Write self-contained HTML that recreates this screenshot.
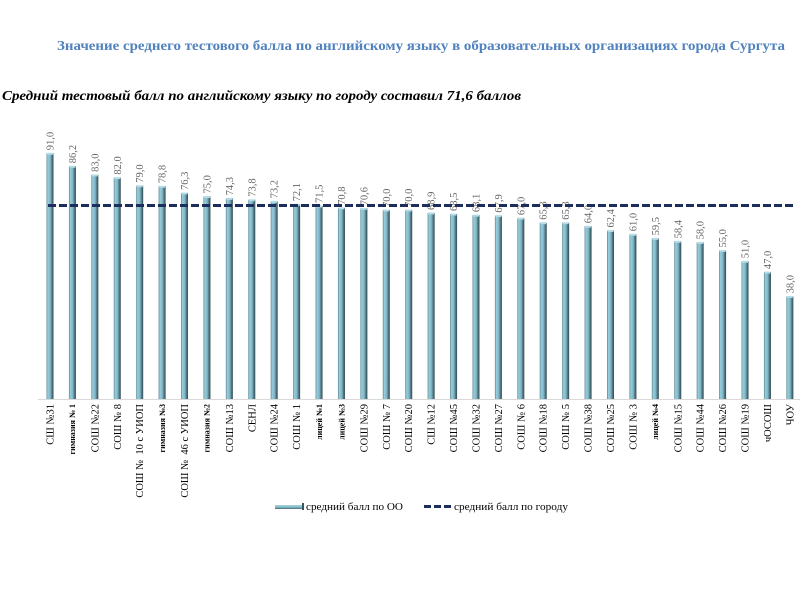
<!DOCTYPE html>
<html>
<head>
<meta charset="utf-8">
<style>
html,body{margin:0;padding:0;background:#fff;}
svg{display:block;}
</style>
</head>
<body>
<svg width="800" height="600" viewBox="0 0 800 600" xmlns="http://www.w3.org/2000/svg">
<defs>
<linearGradient id="bg" x1="0" y1="0" x2="1" y2="0">
<stop offset="0" stop-color="#4f808c"/>
<stop offset="0.18" stop-color="#9acddb"/>
<stop offset="0.55" stop-color="#7fb7c6"/>
<stop offset="0.75" stop-color="#547f8a"/>
<stop offset="1" stop-color="#34494f"/>
</linearGradient>
<linearGradient id="lg" x1="0" y1="0" x2="0" y2="1">
<stop offset="0" stop-color="#a3d3df"/>
<stop offset="0.5" stop-color="#88bfcd"/>
<stop offset="1" stop-color="#4a6f78"/>
</linearGradient>
</defs>
<rect width="800" height="600" fill="#fff"/>

<text x="57" y="50" font-family="Liberation Serif, serif" font-weight="bold" font-size="14" fill="#5182be" textLength="728" lengthAdjust="spacingAndGlyphs">Значение среднего тестового балла по английскому языку в образовательных организациях города Сургута</text>

<text x="2" y="100" font-family="Liberation Serif, serif" font-weight="bold" font-style="italic" font-size="13.5" fill="#000" textLength="519" lengthAdjust="spacingAndGlyphs">Средний тестовый балл по английскому языку по городу составил 71,6 баллов</text>

<line x1="38" y1="399.5" x2="800" y2="399.5" stroke="#d9d9d9" stroke-width="1"/>

<g id="bars"></g>

<line x1="48" y1="205.5" x2="793" y2="205.5" stroke="#1b2e5e" stroke-width="3" stroke-dasharray="8 3"/>

<!-- legend -->
<rect x="275" y="505" width="28" height="4" fill="url(#lg)"/>
<rect x="302" y="503" width="2" height="7" fill="#3a555c"/>
<text x="306" y="510" font-family="Liberation Serif, serif" font-size="11" fill="#000" textLength="97" lengthAdjust="spacingAndGlyphs">средний балл по ОО</text>
<line x1="424" y1="506.5" x2="451" y2="506.5" stroke="#1b2e5e" stroke-width="3" stroke-dasharray="7 3"/>
<text x="454" y="510" font-family="Liberation Serif, serif" font-size="11" fill="#000" textLength="114" lengthAdjust="spacingAndGlyphs">средний балл по городу</text>
</svg>
<script>
(function(){
var data=[
["СШ №31",91.0,0],["гимназия № 1",86.2,1],["СОШ №22",83.0,0],["СОШ № 8",82.0,0],
["СОШ №  10 с УИОП",79.0,0],["гимназия №3",78.8,1],["СОШ №  46 с УИОП",76.3,0],["гимназия №2",75.0,1],
["СОШ №13",74.3,0],["СЕНЛ",73.8,0],["СОШ №24",73.2,0],["СОШ № 1",72.1,0],
["лицей №1",71.5,1],["лицей №3",70.8,1],["СОШ №29",70.6,0],["СОШ № 7",70.0,0],
["СОШ №20",70.0,0],["СШ №12",68.9,0],["СОШ №45",68.5,0],["СОШ №32",68.1,0],
["СОШ №27",67.9,0],["СОШ № 6",67.0,0],["СОШ №18",65.3,0],["СОШ № 5",65.3,0],
["СОШ №38",64.0,0],["СОШ №25",62.4,0],["СОШ № 3",61.0,0],["лицей №4",59.5,1],
["СОШ №15",58.4,0],["СОШ №44",58.0,0],["СОШ №26",55.0,0],["СОШ №19",51.0,0],
["чОСОШ",47.0,0],["ЧОУ",38.0,0]];
var NS="http://www.w3.org/2000/svg";
var g=document.getElementById("bars");
function el(n,a,t){var e=document.createElementNS(NS,n);for(var k in a)e.setAttribute(k,a[k]);if(t!=null)e.textContent=t;g.appendChild(e);return e;}
for(var i=0;i<data.length;i++){
 var d=data[i];var cx=50+i*22.42;var top=399-2.7*d[1];
 el("rect",{x:(cx-3.5).toFixed(2),y:top.toFixed(2),width:7,height:(399-top).toFixed(2),fill:"url(#bg)"});
 el("rect",{x:(cx-3).toFixed(2),y:(top-0.5).toFixed(2),width:6,height:2,fill:"#b5dde7"});
 var v=d[1].toFixed(1).replace(".",",");
 var lx=cx+3.5, ly=top-3;
 el("text",{x:0,y:0,transform:"translate("+lx.toFixed(2)+","+ly.toFixed(2)+") rotate(-90)","font-family":"Liberation Serif, serif","font-size":"10.5",fill:"#666666"},v);
 var small=d[2]===1;
 var tx=cx+(small?2.8:3.5);
 var a={x:0,y:0,transform:"translate("+tx.toFixed(2)+",404) rotate(-90)","text-anchor":"end","font-family":"Liberation Serif, serif","font-size":small?"8":"10.5",fill:"#000",style:"white-space:pre"};
 if(small)a["font-weight"]="bold";
 el("text",a,d[0]);
}
})();
</script>
</body>
</html>
